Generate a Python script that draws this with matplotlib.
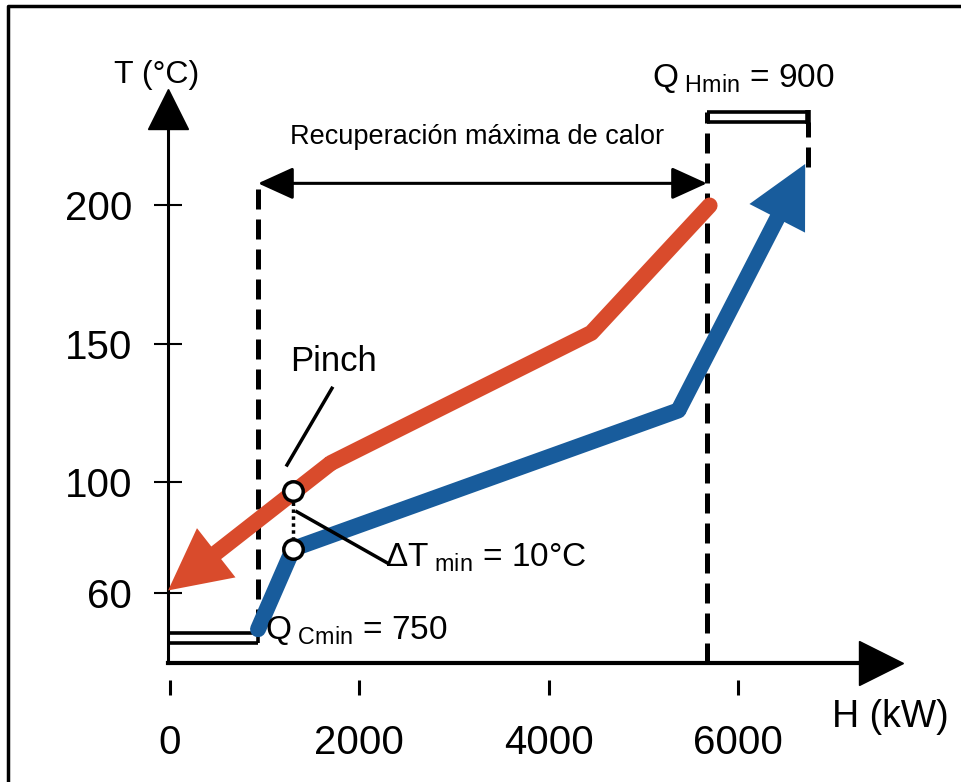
import matplotlib
matplotlib.use('Agg')
import matplotlib.pyplot as plt
from matplotlib.lines import Line2D

# composite curves (H in kW, T in C)
hot_H = [5700, 4450, 1700, -20]
hot_T = [200, 154, 107, 61]
cold_H = [930, 1300, 5370, 6710]
cold_T = [47, 76, 126, 215]

pinch_H = 1300
pinch_T = [97, 76]

x_ticks = [0, 2000, 4000, 6000]
y_ticks = [60, 100, 150, 200]

qc_H = [0, 930]        # Q_Cmin bracket
qh_H = [5672, 6739]    # Q_Hmin bracket
recov_T = 208          # level of the max recovery arrow

red = '#D94B2C'
blue = '#185C9C'

plt.rcParams['font.family'] = ['Liberation Sans', 'DejaVu Sans']
plt.rcParams['mathtext.fontset'] = 'custom'
plt.rcParams['mathtext.rm'] = 'Liberation Sans'
plt.rcParams['mathtext.it'] = 'Liberation Sans'

fig = plt.figure(figsize=(9.61, 7.82), dpi=100)
ax = fig.add_axes([168/961, 119/782, 712/961, 568/782])
ax.set_xlim(-21, 7500)
ax.set_ylim(34.8, 239.9)

for s in ['top', 'right']:
    ax.spines[s].set_visible(False)
ax.spines['left'].set_linewidth(2.2)
ax.spines['bottom'].set_linewidth(3)

# axis arrow heads
ax.plot([1.0021], [0], marker='>', ms=31, color='k', transform=ax.transAxes, clip_on=False)
ax.plot([0], [0.975], marker='^', ms=29, color='k', transform=ax.transAxes, clip_on=False)

# ticks
ax.set_xticks(x_ticks)
ax.set_xticklabels([str(v) for v in x_ticks])
ax.tick_params(axis='x', length=0, pad=44, labelsize=29)
ax.vlines(x_ticks, 23.3, 28.7, color='k', lw=2.2, clip_on=False)
ax.set_yticks(y_ticks)
ax.set_yticklabels([str(v) for v in y_ticks])
ax.tick_params(axis='y', direction='inout', length=20, width=1.5, pad=16, labelsize=29)

# dashed guide lines
ax.plot([cold_H[0], cold_H[0]], [cold_T[0], recov_T], 'k', lw=3.6, dashes=(4, 2))
ax.plot([qh_H[0], qh_H[0]], [34.8, 233.8], 'k', lw=3.6, dashes=(4, 2), clip_on=False)
ax.plot([qh_H[1], qh_H[1]], [cold_T[-1] - 1, 230.2], 'k', lw=3.6, dashes=(4, 2), clip_on=False)

# Q brackets (double lines)
ax.hlines([45.7, 42.1], qc_H[0], qc_H[1], color='k', lw=2.6)
ax.vlines(qc_H[1], 42.1, 45.7, color='k', lw=2.6)
ax.hlines([233.8, 230.2], qh_H[0], qh_H[1], color='k', lw=2.6, clip_on=False)
ax.vlines(qh_H[1], 229.6, 234.4, color='k', lw=4, clip_on=False)

# max recovery arrow
ax.annotate('', xy=(qh_H[0], recov_T), xytext=(cold_H[0], recov_T),
            arrowprops=dict(arrowstyle='<|-|>,head_length=1.1,head_width=0.5',
                            mutation_scale=20, color='k', lw=2.2, shrinkA=0, shrinkB=0))
ax.text(3243, 224.8, 'Recuperación máxima de calor', fontsize=19.5, ha='center', va='center')

# hot composite curve
ax.plot(hot_H[:-1], hot_T[:-1], color=red, lw=11.5, solid_capstyle='round', solid_joinstyle='round')
ax.annotate('', xy=(hot_H[-1], hot_T[-1]), xytext=(hot_H[-2], hot_T[-2]),
            arrowprops=dict(arrowstyle='simple,head_length=4.4,head_width=4.5,tail_width=1.15',
                            mutation_scale=10, color=red, lw=0, shrinkA=0, shrinkB=0))

# cold composite curve
ax.plot(cold_H[:-1], cold_T[:-1], color=blue, lw=11.5, solid_capstyle='round', solid_joinstyle='round')
ax.annotate('', xy=(cold_H[-1], cold_T[-1]), xytext=(cold_H[-2], cold_T[-2]),
            arrowprops=dict(arrowstyle='simple,head_length=4.4,head_width=4.5,tail_width=1.15',
                            mutation_scale=10, color=blue, lw=0, shrinkA=0, shrinkB=0))

# pinch
ax.plot([pinch_H, pinch_H], [pinch_T[0] - 4, pinch_T[1] + 4], color='k', ls=(0, (1, 1)), lw=2.5, zorder=4)
ax.plot([pinch_H, pinch_H], pinch_T, ls='none', marker='o', ms=14, mfc='white', mec='k', mew=2.5, zorder=5)
ax.plot([1711, 1236], [134, 106.3], 'k', lw=2.5)
ax.plot([1341, 2292], [89.4, 71], 'k', lw=2.5)
ax.text(1722, 143.5, 'Pinch', fontsize=25, ha='center', va='center')
ax.text(2271, 72.7, r'ΔT$_{\mathrm{\ min}}$ = 10°C', fontsize=24, ha='left', va='center')

ax.text(1003, 46.7, r'Q$_{\mathrm{\ Cmin}}$ = 750', fontsize=24, ha='left', va='center')
ax.text(5091, 246, r'Q$_{\mathrm{\ Hmin}}$ = 900', fontsize=24, ha='left', va='center', clip_on=False)

# axis titles
ax.text(-137, 247, 'T (°C)', fontsize=23, ha='center', va='center', clip_on=False)
ax.text(7605, 15.4, 'H (kW)', fontsize=27, ha='center', va='center', clip_on=False)

# frame
fig.add_artist(Line2D([8/961, 8/961, 1], [0, 1 - 6/782, 1 - 6/782], transform=fig.transFigure, color='k', lw=2.5))

fig.savefig('out.png', dpi=100)
